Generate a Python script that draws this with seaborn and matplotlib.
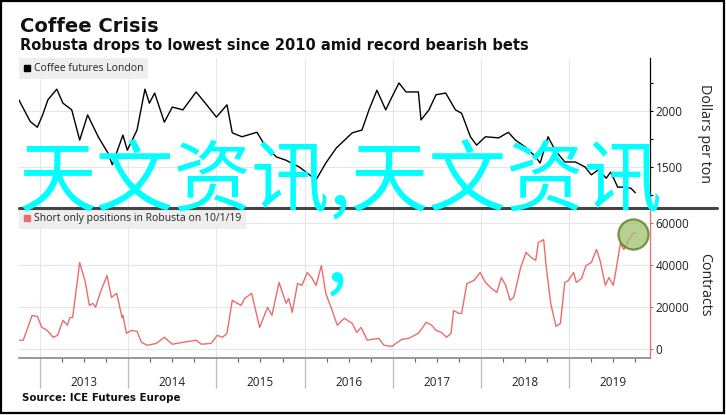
import matplotlib
matplotlib.use("Agg")
import numpy as np
import pandas as pd
import matplotlib.pyplot as plt
import seaborn as sns
from matplotlib.lines import Line2D
from matplotlib.ticker import FixedLocator, FixedFormatter

# --- Data (x in decimal years) ---
coffee_t = [2012.76, 2012.89, 2012.97, 2013.03, 2013.09, 2013.19, 2013.26, 2013.36, 2013.45, 2013.54,
            2013.66, 2013.77, 2013.82, 2013.94, 2013.99, 2014.10, 2014.19, 2014.24, 2014.30, 2014.41,
            2014.50, 2014.62, 2014.77, 2014.89, 2015.00, 2015.12, 2015.18, 2015.29, 2015.46, 2015.56,
            2015.68, 2015.79, 2015.94, 2016.13, 2016.24, 2016.36, 2016.54, 2016.65, 2016.73, 2016.82,
            2016.92, 2016.99, 2017.07, 2017.15, 2017.29, 2017.32, 2017.41, 2017.49, 2017.60, 2017.71,
            2017.78, 2017.88, 2017.95, 2018.05, 2018.20, 2018.31, 2018.39, 2018.50, 2018.62, 2018.67,
            2018.76, 2018.84, 2018.95, 2019.07, 2019.18, 2019.25, 2019.33, 2019.42, 2019.47, 2019.55,
            2019.63, 2019.70, 2019.75]
coffee_px = [2100, 1905, 1855, 1965, 2100, 2195, 2070, 2010, 1740, 1965,
             1770, 1625, 1520, 1785, 1650, 1830, 2195, 2070, 2160, 1900,
             2035, 2010, 2170, 2055, 1945, 2055, 1805, 1770, 1810, 1680,
             1590, 1560, 1500, 1385, 1535, 1670, 1805, 1830, 2010, 2185,
             2010, 2125, 2250, 2170, 2170, 1920, 2010, 2145, 2160, 2010,
             1980, 1770, 1695, 1770, 1760, 1810, 1740, 1680, 1590, 1535,
             1770, 1650, 1545, 1545, 1500, 1430, 1475, 1400, 1455, 1320,
             1320, 1310, 1270]

shorts_t = [2012.77, 2012.81, 2012.91, 2012.97, 2013.02, 2013.08, 2013.15, 2013.20, 2013.26, 2013.31,
            2013.34, 2013.37, 2013.45, 2013.51, 2013.56, 2013.60, 2013.63, 2013.68, 2013.76, 2013.81,
            2013.87, 2013.93, 2013.94, 2013.98, 2014.04, 2014.10, 2014.15, 2014.22, 2014.32, 2014.41,
            2014.50, 2014.62, 2014.77, 2014.83, 2014.94, 2015.01, 2015.07, 2015.12, 2015.18, 2015.28,
            2015.32, 2015.40, 2015.49, 2015.58, 2015.63, 2015.71, 2015.79, 2015.82, 2015.86, 2015.92,
            2015.97, 2016.03, 2016.08, 2016.13, 2016.19, 2016.24, 2016.30, 2016.37, 2016.45, 2016.54,
            2016.59, 2016.64, 2016.71, 2016.84, 2016.90, 2016.99, 2017.10, 2017.18, 2017.29, 2017.38,
            2017.44, 2017.49, 2017.55, 2017.61, 2017.66, 2017.69, 2017.75, 2017.78, 2017.84, 2017.92,
            2017.99, 2018.05, 2018.12, 2018.18, 2018.23, 2018.28, 2018.33, 2018.37, 2018.45, 2018.51,
            2018.57, 2018.62, 2018.65, 2018.71, 2018.74, 2018.79, 2018.85, 2018.90, 2018.95, 2018.99,
            2019.05, 2019.08, 2019.14, 2019.19, 2019.25, 2019.31, 2019.35, 2019.41, 2019.45, 2019.50,
            2019.53, 2019.58, 2019.62, 2019.67, 2019.72, 2019.75]
shorts_n = [4300, 4300, 16000, 15600, 10400, 9000, 5700, 6600, 13700, 11400,
            15100, 15100, 41100, 32600, 20800, 21800, 19900, 26500, 35000, 24600,
            26500, 15100, 16100, 7600, 9000, 8500, 3300, 1900, 2800, 5700,
            2400, 3300, 4300, 2400, 2800, 6600, 5700, 7600, 23200, 20800,
            24100, 26500, 10400, 19900, 16100, 31700, 21800, 24100, 17500, 31200,
            30300, 36400, 34000, 30300, 39700, 26500, 19900, 11400, 14700, 12300,
            8000, 10400, 4300, 5200, 1900, 1400, 4700, 5200, 7600, 12800,
            11400, 9000, 8000, 5700, 7600, 18400, 17000, 17000, 31200, 32600,
            36400, 31700, 28800, 27000, 34000, 30300, 23200, 24600, 38800, 45900,
            43500, 42100, 50600, 52000, 38800, 21800, 10900, 12300, 31700, 32600,
            36400, 31700, 33600, 39700, 41100, 47300, 42100, 30300, 34000, 30300,
            37400, 50100, 47300, 51500, 54800, 55300]

years = [2013, 2014, 2015, 2016, 2017, 2018, 2019]
coffee_ticks = [1250, 1500, 1750, 2000, 2250]
coffee_labels = ["", "1500", "", "2000", ""]
shorts_ticks = [0, 20000, 40000, 60000]

coffee = pd.DataFrame({"t": coffee_t, "price": coffee_px})
shorts = pd.DataFrame({"t": shorts_t, "contracts": shorts_n})

# --- Style ---
sns.set_theme(style="white")
plt.rcParams["font.family"] = ["Open Sans", "DejaVu Sans"]
GRID = "#e6e6e6"
RED = "#ee6b6b"
W, H = 726, 415

fig = plt.figure(figsize=(7.26, 4.15), dpi=100)
fig.patch.set_facecolor("white")

def box(x0, y_top, x1, y_bot):
    # pixel box -> figure fraction rect
    return [x0 / W, 1 - y_bot / H, (x1 - x0) / W, (y_bot - y_top) / H]

ax1 = fig.add_axes(box(19, 58, 650, 208))
ax2 = fig.add_axes(box(19, 208, 650, 358))
xlim = (2012.762, 2019.916)

# --- Top panel: coffee futures ---
sns.lineplot(data=coffee, x="t", y="price", ax=ax1, color="black", linewidth=1.0)
ax1.set_xlim(*xlim)
ax1.set_ylim(1134, 2473)
ax1.set_xticks(years)
ax1.tick_params(axis="x", length=0, labelbottom=False)
ax1.yaxis.tick_right()
ax1.yaxis.set_major_locator(FixedLocator(coffee_ticks))
ax1.yaxis.set_major_formatter(FixedFormatter(coffee_labels))
ax1.tick_params(axis="y", direction="out", length=2.5, width=0.8, color="black",
                labelsize=8.5, pad=1.5, labelcolor="#222222")
for v in [1500, 2000]:
    ax1.axhline(v, color=GRID, lw=0.8, zorder=0)
for y in years:
    ax1.axvline(y, color=GRID, lw=0.8, zorder=0)
for s in ["top", "left", "bottom"]:
    ax1.spines[s].set_visible(False)
ax1.spines["right"].set_color("black")
ax1.spines["right"].set_linewidth(0.9)
ax1.set_xlabel("")
ax1.set_ylabel("Dollars per ton", rotation=270, fontsize=10.3, color="#222222")
ax1.yaxis.set_label_position("right")
ax1.yaxis.set_label_coords(1.087, 0.5)
ax1.yaxis.label.set_va("center")
ax1.legend(handles=[Line2D([], [], marker="s", color="black", ls="", markersize=5)],
           labels=["Coffee futures London"], loc="upper left", bbox_to_anchor=(0, 1),
           borderaxespad=0, fancybox=False, facecolor="#eeeeee", edgecolor="none",
           framealpha=1, fontsize=7.5, handlelength=0.6, handletextpad=0.3,
           borderpad=0.5, labelcolor="#222222")

# --- Bottom panel: short positions ---
sns.lineplot(data=shorts, x="t", y="contracts", ax=ax2, color=RED, linewidth=1.0)
ax2.scatter([shorts_t[-2]], [shorts_n[-2]], s=470, facecolor="#9fbf6e", alpha=0.75,
            edgecolor="#4f7a12", linewidth=1.6, zorder=5, clip_on=False)
ax2.set_xlim(*xlim)
ax2.set_ylim(-4120, 66970)
ax2.yaxis.tick_right()
ax2.set_yticks(shorts_ticks)
ax2.set_yticklabels([str(v) for v in shorts_ticks])
ax2.tick_params(axis="y", direction="out", length=2.5, width=0.8, color="#888888",
                labelsize=8.5, pad=1.5, labelcolor="#222222")
for v in shorts_ticks:
    ax2.axhline(v, color=GRID, lw=0.8, zorder=0)
for y in years:
    ax2.axvline(y, color=GRID, lw=0.8, zorder=0)

# x axis: long year ticks, quarter minor ticks, labels mid-year
quarters = [y + q for y in range(2012, 2020) for q in (0.25, 0.5, 0.75)]
quarters = [q for q in quarters if xlim[0] < q < xlim[1]]
ax2.xaxis.set_major_locator(FixedLocator(years))
ax2.xaxis.set_major_formatter(FixedFormatter([""] * len(years)))
ax2.xaxis.set_minor_locator(FixedLocator(quarters))
ax2.xaxis.set_minor_formatter(FixedFormatter([str(int(q)) if q % 1 == 0.5 and int(q) in years else ""
                                              for q in quarters]))
ax2.tick_params(axis="x", which="major", direction="out", length=21.5, width=0.9,
                color="#bbbbbb", bottom=True)
ax2.tick_params(axis="x", which="minor", direction="out", length=3, width=0.8,
                color="#666666", labelsize=8.5, pad=10, bottom=True, labelcolor="#222222")
for s in ["top", "left"]:
    ax2.spines[s].set_visible(False)
ax2.spines["right"].set_color(RED)
ax2.spines["right"].set_linewidth(0.9)
ax2.spines["bottom"].set_color("#888888")
ax2.spines["bottom"].set_linewidth(1.2)
ax2.set_xlabel("")
ax2.set_ylabel("Contracts", rotation=270, fontsize=10.3, color="#222222")
ax2.yaxis.set_label_position("right")
ax2.yaxis.set_label_coords(1.087, 0.49)
ax2.yaxis.label.set_va("center")
ax2.legend(handles=[Line2D([], [], marker="s", color=RED, ls="", markersize=5)],
           labels=["Short only positions in Robusta on 10/1/19"], loc="upper left",
           bbox_to_anchor=(0, 1), borderaxespad=0, fancybox=False, facecolor="#eeeeee",
           edgecolor="none", framealpha=1, fontsize=7.5, handlelength=0.6,
           handletextpad=0.3, borderpad=0.5, labelcolor="#222222")

# --- Separator between panels ---
fig.add_artist(Line2D([19 / W, 717 / W], [1 - 208 / H] * 2, color="#444444", lw=2.2))

# --- Titles and source ---
fig.text(20 / W, 1 - 32 / H, "Coffee Crisis", fontsize=14, fontweight="bold",
         family="DejaVu Sans", va="baseline", color="#111111")
fig.text(20 / W, 1 - 50 / H, "Robusta drops to lowest since 2010 amid record bearish bets",
         fontsize=10.5, fontweight="bold", family="DejaVu Sans", va="baseline", color="#111111")
fig.text(22 / W, 1 - 401 / H, "Source: ICE Futures Europe", fontsize=7.4, fontweight="bold",
         family="DejaVu Sans", va="baseline", color="#111111")

# --- Watermark overlay ---
cjk = ["Noto Sans CJK SC", "DejaVu Sans"]
fig.text(19 / W, 1 - 205 / H, "天文资讯,天文资讯", fontsize=56, family=cjk,
         color="#00ffff", va="baseline", zorder=10)
fig.text(326 / W, 1 - 281 / H, ",", fontsize=56, family=cjk,
         color="#00ffff", va="baseline", zorder=10)

# --- Outer frame ---
fig.add_artist(plt.Rectangle((0.5 / W, 2.5 / H), 723 / W, 411 / H, transform=fig.transFigure,
                             fill=False, edgecolor="black", lw=1.6))

fig.savefig("out.png", dpi=100)
